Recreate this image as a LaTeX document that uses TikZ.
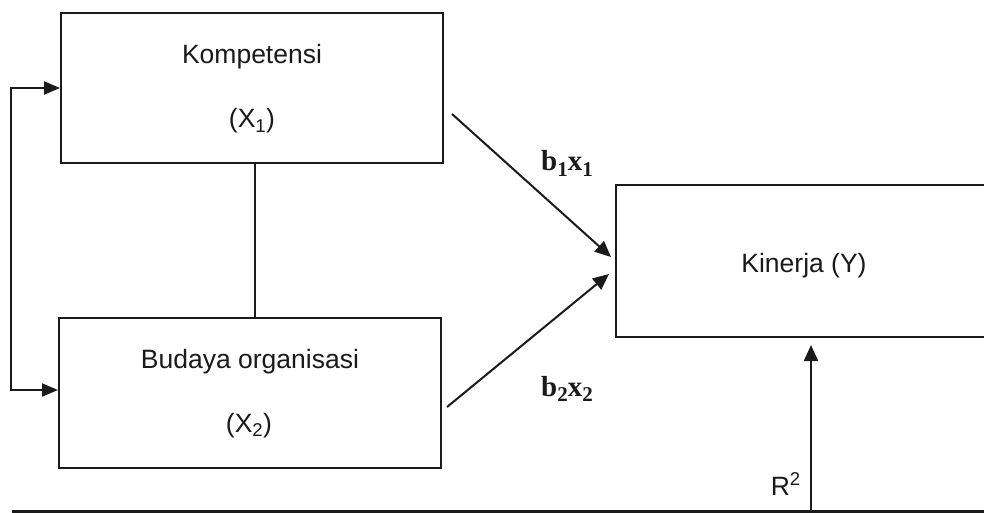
\documentclass[tikz,border=0pt]{standalone}
\usepackage{fontspec}
\setmainfont{Liberation Sans}
\newfontfamily\serifb{Liberation Serif}
\usetikzlibrary{arrows.meta,calc}
\definecolor{ink}{HTML}{1A1A1A}
\newcommand{\coefsub}[1]{\raisebox{-0.18em}{\fontsize{21}{21}\selectfont #1}}
\tikzset{
  box/.style={draw=ink, line width=2pt, rectangle, inner sep=0pt},
  boxtext/.style={text=ink, font=\fontsize{26.5}{26.5}\selectfont, inner sep=0pt, anchor=base},
  coef/.style={text=ink, font=\serifb\bfseries\fontsize{29}{29}\selectfont, inner sep=0pt, anchor=base west},
  conn/.style={draw=ink, line width=2pt},
  arr/.style={conn, -{Triangle[length=16pt,width=14pt]}},
  biarr/.style={conn, {Triangle[length=16pt,width=13pt]}-{Triangle[length=16pt,width=13pt]}},
}
\begin{document}
\begin{tikzpicture}[x=1pt,y=-1pt]
\useasboundingbox (0,0) rectangle (984,513);
\fill[white] (0,0) rectangle (984,513);
\clip (0,0) rectangle (984,513);
% boxes
\node[box, minimum width=382pt, minimum height=150pt] (k) at (252,88) {};
\node[box, minimum width=382pt, minimum height=150pt] (b) at (250,393) {};
\node[box, minimum width=376pt, minimum height=152pt] (y) at (804,261) {};
% texts
\node[boxtext] (kt1) at (252,64) {Kompetensi};
\node[boxtext] (kt2) at (252,128) {(X\textsubscript{1})};
\node[boxtext] (bt1) at (250,368) {Budaya organisasi};
\node[boxtext] (bt2) at (249,432) {(X\textsubscript{2})};
\node[boxtext] (yt) at (804,272) {Kinerja (Y)};
\node[coef] (c1) at (541,171) {b\coefsub{1}x\coefsub{1}};
\node[coef] (c2) at (541,396) {b\coefsub{2}x\coefsub{2}};
\node[boxtext, anchor=base east] (r2) at (801,495) {R\textsuperscript{2}};
% connectors
\draw[biarr] (k.west) -- ++(-49,0) |- ($(b.west)+(0,-3)$);
\draw[conn] ($(k.south)+(3,0)$) -- ($(b.north)+(5,0)$);
\draw[arr] ($(k.east)+(8,26)$) -- ($(y.west)+(-4,-4)$);
\draw[arr] ($(b.east)+(5,14)$) -- ($(y.west)+(-6,13)$);
% bottom line and R^2 arrow
\coordinate (bl) at (12,511);
\coordinate (br) at (990,511);
\coordinate (r0) at (811,512);
\draw[conn, line width=3pt] (bl) -- (br);
\draw[arr] (r0) -- ($(y.south)+(7,7)$);
\end{tikzpicture}
\end{document}
